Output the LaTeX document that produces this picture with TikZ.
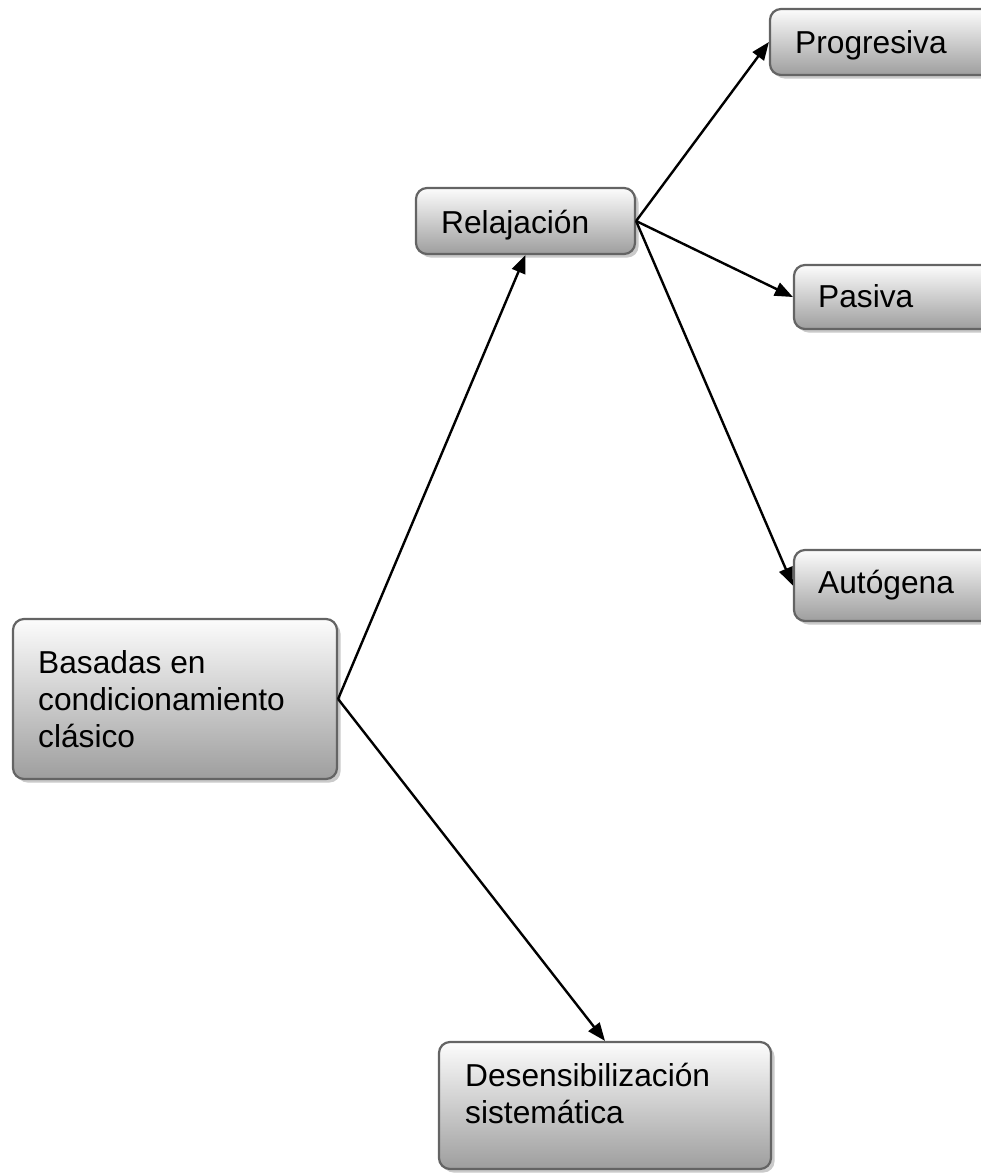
\documentclass[tikz,border=0pt]{standalone}
\usepackage{fontspec}
\setmainfont{Liberation Sans}
\usetikzlibrary{arrows.meta,shadows}
\definecolor{boxtop}{RGB}{252,252,252}
\definecolor{boxbottom}{RGB}{158,158,158}
\definecolor{boxline}{RGB}{100,100,100}
\begin{document}
\begin{tikzpicture}[x=1pt,y=-1pt,
  box/.style={draw=boxline, line width=2.2pt, rounded corners=11pt,
    top color=boxtop, bottom color=boxbottom, inner sep=0pt,
    drop shadow={shadow xshift=3.5pt, shadow yshift=-3.5pt, fill=black!35, opacity=0.6}},
  boxtext/.style={anchor=base west, inner sep=0pt, font=\fontsize{31.7}{37}\selectfont},
  link/.style={line width=2.4pt, -{Triangle[length=18pt,width=14pt]}}]
  \useasboundingbox (0,0) rectangle (981,1173);

  % boxes
  \node[box, minimum width=324pt, minimum height=160pt] (basadas) at (175,699) {};
  \node[box, minimum width=219pt, minimum height=66pt] (relaj) at (525.5,221) {};
  \node[box, minimum width=240pt, minimum height=66pt] (prog) at (890,42) {};
  \node[box, minimum width=216pt, minimum height=64pt] (pasiva) at (902,297) {};
  \node[box, minimum width=216pt, minimum height=71pt] (autog) at (902,585.5) {};
  \node[box, minimum width=332pt, minimum height=127pt] (desens) at (605,1105.5) {};

  % labels
  \node[boxtext] (tbasadas) at (38,673) {\parbox[t]{290pt}{\raggedright Basadas en\\condicionamiento\\clásico}};
  \node[boxtext] (trelaj) at (441,233) {Relajación};
  \node[boxtext] (tprog) at (795,53) {Progresiva};
  \node[boxtext] (tpasiva) at (818,307) {Pasiva};
  \node[boxtext] (tautog) at (818,593) {Autógena};
  \node[boxtext] (tdesens) at (465,1086) {\parbox[t]{300pt}{\raggedright Desensibilización\\sistemática}};

  % connectors
  \draw[link] (basadas.east) -- (relaj.south);
  \draw[link] (basadas.east) -- (desens.north);
  \draw[link] (relaj.east) -- (prog.west);
  \draw[link] (relaj.east) -- (pasiva.west);
  \draw[link] (relaj.east) -- (autog.west);
\end{tikzpicture}
\end{document}
